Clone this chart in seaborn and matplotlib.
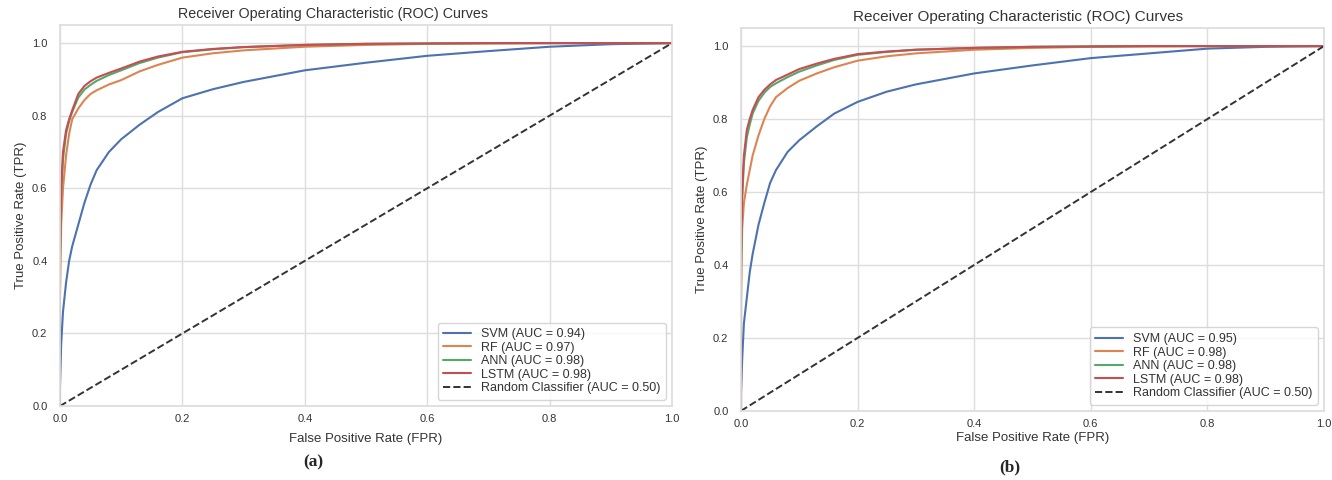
import numpy as np
import pandas as pd
import matplotlib
matplotlib.use("Agg")
import matplotlib.pyplot as plt
import seaborn as sns

# ---------------- data ----------------
fpr = [0, 0, 0.002, 0.005, 0.01, 0.015, 0.02, 0.03, 0.04, 0.05, 0.06, 0.08, 0.1,
       0.13, 0.16, 0.2, 0.25, 0.3, 0.4, 0.5, 0.6, 0.7, 0.8, 0.9, 1.0]

models = ["SVM", "RF", "ANN", "LSTM"]

# panel (a)
svm_a = [0, 0.05, 0.17, 0.26, 0.34, 0.40, 0.44, 0.50, 0.56, 0.61, 0.65, 0.70, 0.735,
         0.775, 0.81, 0.848, 0.873, 0.893, 0.925, 0.946, 0.965, 0.978, 0.99, 0.997, 1.0]
rf_a = [0, 0.30, 0.50, 0.60, 0.69, 0.75, 0.79, 0.82, 0.843, 0.86, 0.87, 0.886, 0.898,
        0.922, 0.94, 0.96, 0.972, 0.98, 0.99, 0.995, 0.998, 0.999, 1.0, 1.0, 1.0]
ann_a = [0, 0.40, 0.58, 0.68, 0.75, 0.785, 0.81, 0.85, 0.872, 0.885, 0.896, 0.912, 0.925,
         0.945, 0.96, 0.975, 0.983, 0.989, 0.995, 0.998, 0.999, 1.0, 1.0, 1.0, 1.0]
lstm_a = [0, 0.42, 0.60, 0.70, 0.76, 0.79, 0.815, 0.86, 0.882, 0.895, 0.905, 0.918, 0.93,
          0.949, 0.963, 0.976, 0.984, 0.989, 0.995, 0.998, 0.999, 1.0, 1.0, 1.0, 1.0]
auc_a = [0.94, 0.97, 0.98, 0.98]

# panel (b)
svm_b = [0, 0.05, 0.14, 0.24, 0.31, 0.38, 0.43, 0.51, 0.57, 0.625, 0.66, 0.71, 0.742,
         0.78, 0.815, 0.847, 0.875, 0.895, 0.925, 0.947, 0.967, 0.98, 0.993, 0.998, 1.0]
rf_b = [0, 0.30, 0.50, 0.57, 0.62, 0.66, 0.70, 0.755, 0.80, 0.835, 0.86, 0.885, 0.905,
        0.925, 0.942, 0.96, 0.972, 0.98, 0.99, 0.995, 0.998, 0.999, 1.0, 1.0, 1.0]
ann_b = [0, 0.40, 0.58, 0.68, 0.75, 0.785, 0.815, 0.85, 0.872, 0.888, 0.898, 0.915, 0.93,
         0.947, 0.962, 0.976, 0.984, 0.99, 0.995, 0.998, 0.999, 1.0, 1.0, 1.0, 1.0]
lstm_b = [0, 0.42, 0.60, 0.70, 0.77, 0.80, 0.825, 0.86, 0.88, 0.895, 0.907, 0.922, 0.937,
          0.952, 0.965, 0.978, 0.985, 0.99, 0.995, 0.998, 0.999, 1.0, 1.0, 1.0, 1.0]
auc_b = [0.95, 0.98, 0.98, 0.98]

diag = [0, 1]
auc_random = 0.50

title = "Receiver Operating Characteristic (ROC) Curves"
xlabel = "False Positive Rate (FPR)"
ylabel = "True Positive Rate (TPR)"
captions = ["(a)", "(b)"]

# ---------------- plotting ----------------
sns.set_theme(style="whitegrid")
plt.rcParams["font.family"] = ["Liberation Sans", "DejaVu Sans"]
colors = sns.color_palette("deep")[:4]

fig = plt.figure(figsize=(13.32, 4.8), dpi=100)
ax_a = fig.add_axes([0.045, 0.154, 0.4595, 0.794])
ax_b = fig.add_axes([0.5563, 0.144, 0.4377, 0.798])

panels = [(ax_a, [svm_a, rf_a, ann_a, lstm_a], auc_a, 0.193, 10.3, 6),
          (ax_b, [svm_b, rf_b, ann_b, lstm_b], auc_b, 0.192, 11.0, 2)]

for ax, series, aucs, tx, tfs, lp in panels:
    for name, tpr, auc, c in zip(models, series, aucs, colors):
        sns.lineplot(x=fpr, y=tpr, ax=ax, color=c, linewidth=1.5,
                     estimator=None, sort=False,
                     label=f"{name} (AUC = {auc:.2f})")
    sns.lineplot(x=diag, y=diag, ax=ax, color="#333333", linestyle="--",
                 linewidth=1.4, estimator=None, sort=False,
                 label=f"Random Classifier (AUC = {auc_random:.2f})")
    ax.set_xlim(0, 1.0)
    ax.set_ylim(0, 1.05)
    ax.set_xticks([0, 0.2, 0.4, 0.6, 0.8, 1.0])
    ax.set_yticks([0, 0.2, 0.4, 0.6, 0.8, 1.0])
    ax.tick_params(axis="x", labelsize=8, colors="#333333", pad=0)
    ax.tick_params(axis="y", labelsize=8, colors="#333333", pad=3)
    ax.set_title(title, fontsize=tfs, color="#333333", pad=5, x=tx, ha="left")
    ax.set_xlabel(xlabel, fontsize=9.5, color="#333333", labelpad=lp)
    ax.set_ylabel(ylabel, fontsize=9.5, color="#333333", labelpad=4)
    for s in ax.spines.values():
        s.set_color("#dddddd")
    ax.grid(color="#dddddd", linewidth=1)
    leg = ax.legend(loc="lower right", fontsize=9, frameon=True,
                    handlelength=2.2, labelspacing=0.12, borderpad=0.45)
    for t in leg.get_texts():
        t.set_color("#333333")

fig.text(313 / 1332, 1 - 462 / 480, captions[0], ha="center", va="center",
         fontsize=12.5, fontweight="bold", family="Liberation Serif")
fig.text(1010 / 1332, 1 - 467 / 480, captions[1], ha="center", va="center",
         fontsize=12.5, fontweight="bold", family="Liberation Serif")

fig.savefig("out.png", dpi=100)
